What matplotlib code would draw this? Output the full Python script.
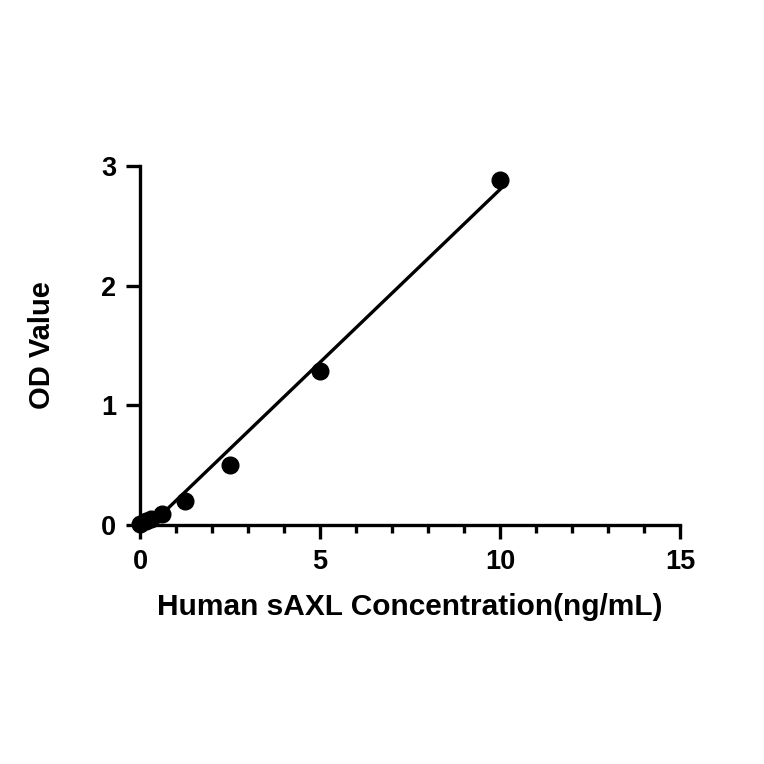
import numpy as np
import matplotlib
matplotlib.use("Agg")
import matplotlib.pyplot as plt
from matplotlib.ticker import MultipleLocator

# standard concentrations (ng/mL) and measured OD
conc = [0, 0.156, 0.3125, 0.625, 1.25, 2.5, 5, 10]
od = [0.01, 0.03, 0.05, 0.09, 0.2, 0.5, 1.29, 2.88]

plt.rcParams['font.family'] = ['Liberation Sans', 'DejaVu Sans']
plt.rcParams['font.weight'] = 'bold'

fig = plt.figure(figsize=(7.64, 7.64), dpi=100)
ax = fig.add_axes([0.1832, 0.3128, 0.7068, 0.4699])

# linear fit of the standards
slope, icpt = np.polyfit(conc, od, 1)
xfit = np.array([0, 10])
ax.plot(xfit, slope * xfit + icpt, color='black', lw=2.4, zorder=2)

ax.plot(conc, od, 'o', color='black', ms=12, zorder=3, clip_on=False)

ax.set_xlim(0, 15)
ax.set_ylim(0, 3)
ax.xaxis.set_major_locator(MultipleLocator(5))
ax.xaxis.set_minor_locator(MultipleLocator(1))
ax.yaxis.set_major_locator(MultipleLocator(1))

for s in ['top', 'right']:
    ax.spines[s].set_visible(False)
for s in ['left', 'bottom']:
    ax.spines[s].set_linewidth(2.4)

ax.tick_params(axis='both', which='major', length=10, width=2.4, labelsize=19.5, pad=7)
ax.tick_params(axis='x', which='minor', length=5.5, width=2.4)

ax.set_xlabel('Human sAXL Concentration(ng/mL)', fontsize=21.5, fontweight='bold')
ax.set_ylabel('OD Value', fontsize=21, fontweight='bold')
ax.xaxis.set_label_coords(0.5, -0.19)
ax.yaxis.set_label_coords(-0.155, 0.5)

fig.savefig('out.png', dpi=100)
